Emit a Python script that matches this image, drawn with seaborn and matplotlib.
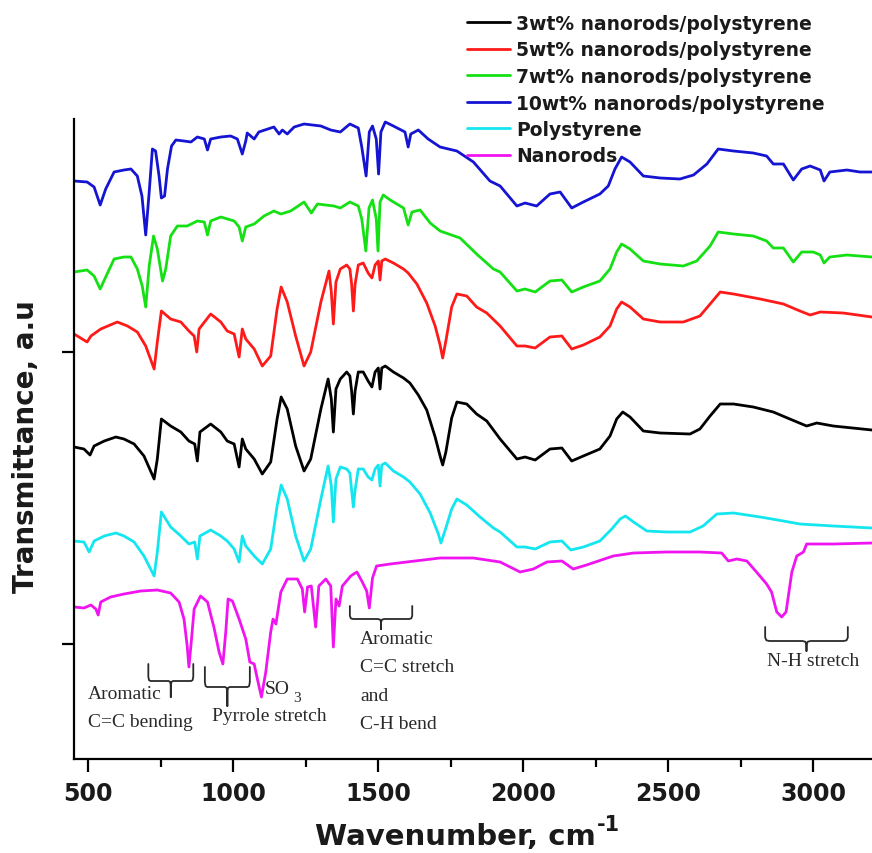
import numpy as np
import pandas as pd
import matplotlib
matplotlib.use("Agg")
import matplotlib.pyplot as plt
import seaborn as sns

# ---------------------------------------------------------------- data
samples = [
    "3wt% nanorods/polystyrene",
    "5wt% nanorods/polystyrene",
    "7wt% nanorods/polystyrene",
    "10wt% nanorods/polystyrene",
    "Polystyrene",
    "Nanorods",
]
colors = ["#000000", "#ff1a1a", "#14e014", "#1414d2", "#14e6f0", "#f014f0"]

# 3 wt% nanorods / polystyrene (black)
wn_3wt = [452, 486, 507, 521, 556, 596, 624, 659, 693, 728, 739, 753, 785, 820, 848, 868, 877, 886, 923, 958,
          980, 1004, 1021, 1032, 1044, 1073, 1101, 1130, 1152, 1166, 1187, 1216, 1245, 1268, 1303, 1328, 1339, 1346,
          1355, 1370, 1392, 1403, 1409, 1415, 1421, 1432, 1449, 1466, 1479, 1490, 1501, 1507, 1513, 1525, 1553, 1588,
          1610, 1639, 1668, 1697, 1714, 1723, 1734, 1754, 1772, 1806, 1840, 1875, 1921, 1979, 2007, 2042, 2093, 2134,
          2168, 2208, 2265, 2300, 2323, 2344, 2369, 2415, 2473, 2576, 2610, 2645, 2680, 2726, 2794, 2863, 2920, 2978,
          3013, 3070, 3203]
tr_3wt = [312, 310, 304, 313, 318, 322, 320, 315, 303, 280, 300, 340, 333, 327, 318, 315, 298, 327, 335, 327,
          318, 315, 292, 320, 310, 300, 285, 297, 340, 362, 350, 313, 288, 300, 350, 380, 360, 327,
          370, 380, 387, 383, 368, 345, 368, 387, 387, 378, 372, 387, 391, 370, 391, 393, 387, 381,
          376, 364, 349, 322, 303, 294, 307, 341, 357, 355, 345, 338, 320, 300, 302, 299, 310, 311,
          298, 303, 310, 323, 340, 347, 342, 328, 326, 325, 330, 343, 355, 355, 352, 347, 340, 333,
          336, 333, 329]

# 5 wt% nanorods / polystyrene (red)
wn_5wt = [452, 497, 510, 544, 601, 636, 670, 699, 728, 739, 753, 785, 820, 848, 866, 875, 883, 923, 958, 980,
          1004, 1021, 1032, 1044, 1073, 1101, 1130, 1152, 1166, 1187, 1216, 1245, 1268, 1303, 1331, 1339, 1346,
          1355, 1370, 1392, 1403, 1409, 1415, 1421, 1432, 1449, 1466, 1479, 1490, 1501, 1507, 1513, 1525, 1553,
          1588, 1604, 1634, 1668, 1697, 1714, 1723, 1734, 1754, 1772, 1806, 1840, 1875, 1921, 1979, 2007, 2042,
          2093, 2134, 2168, 2208, 2265, 2300, 2323, 2340, 2369, 2415, 2473, 2553, 2610, 2651, 2680, 2726, 2818,
          2898, 2955, 2990, 3025, 3104, 3203]
tr_5wt = [425, 417, 423, 430, 437, 433, 427, 413, 390, 417, 448, 440, 437, 428, 423, 407, 430, 445, 437, 428,
          425, 402, 430, 420, 410, 393, 403, 450, 472, 457, 423, 393, 407, 457, 488, 467, 435,
          477, 490, 494, 490, 475, 448, 475, 494, 496, 486, 481, 494, 498, 479, 498, 500, 496,
          490, 486, 475, 456, 433, 414, 401, 418, 452, 465, 463, 452, 446, 433, 413, 413, 411,
          422, 423, 410, 414, 422, 433, 450, 457, 452, 440, 437, 437, 443, 457, 467, 465, 460,
          455, 448, 444, 447, 446, 442]

# 7 wt% nanorods / polystyrene (green)
wn_7wt = [452, 497, 521, 542, 561, 590, 624, 648, 670, 687, 699, 711, 726, 739, 757, 768, 785, 808, 842, 877,
          901, 912, 923, 958, 1004, 1021, 1032, 1044, 1073, 1107, 1141, 1165, 1199, 1245, 1270, 1291, 1348, 1370,
          1403, 1432, 1444, 1458, 1469, 1481, 1494, 1500, 1507, 1518, 1542, 1588, 1604, 1617, 1645, 1680, 1714,
          1783, 1840, 1898, 1921, 1979, 2007, 2042, 2093, 2134, 2168, 2208, 2265, 2300, 2323, 2340, 2369, 2415,
          2473, 2553, 2599, 2645, 2673, 2726, 2794, 2840, 2863, 2898, 2932, 2961, 3001, 3025, 3038, 3058, 3117, 3203]
tr_7wt = [487, 489, 483, 470, 482, 500, 502, 502, 490, 473, 452, 493, 523, 510, 478, 490, 523, 533, 533, 538,
          537, 524, 538, 542, 538, 532, 518, 532, 535, 543, 548, 545, 548, 557, 546, 555, 553, 551,
          557, 553, 540, 508, 551, 559, 540, 508, 557, 564, 559, 551, 534, 547, 549, 536, 528,
          521, 505, 490, 487, 468, 470, 467, 478, 479, 467, 472, 478, 490, 507, 515, 510, 498,
          495, 493, 498, 513, 527, 525, 523, 518, 511, 511, 497, 507, 507, 504, 496, 502, 504, 502]

# 10 wt% nanorods / polystyrene (blue)
wn_10wt = [452, 497, 521, 542, 561, 590, 624, 648, 670, 686, 699, 711, 722, 733, 745, 753, 764, 774, 788, 803,
           831, 855, 877, 901, 912, 923, 958, 992, 1015, 1032, 1044, 1049, 1073, 1089, 1141, 1159, 1170, 1187,
           1211, 1245, 1303, 1337, 1370, 1403, 1432, 1444, 1459, 1470, 1481, 1494, 1502, 1510, 1525, 1553, 1593,
           1604, 1613, 1639, 1673, 1714, 1772, 1829, 1886, 1921, 1979, 2007, 2047, 2093, 2128, 2168, 2208, 2265,
           2294, 2317, 2340, 2369, 2415, 2473, 2541, 2588, 2634, 2673, 2726, 2794, 2840, 2863, 2898, 2932, 2961,
           2990, 3025, 3038, 3058, 3117, 3162, 3203]
tr_10wt = [578, 577, 572, 554, 570, 587, 589, 590, 583, 563, 524, 567, 610, 608, 583, 561, 563, 590, 613, 619,
           618, 617, 622, 620, 609, 620, 622, 623, 620, 605, 618, 626, 620, 627, 632, 625, 629, 625,
           632, 635, 633, 629, 627, 635, 631, 612, 583, 627, 633, 620, 585, 627, 637, 633, 627,
           612, 625, 629, 620, 612, 608, 597, 578, 573, 553, 556, 553, 565, 567, 551, 557, 565,
           573, 590, 602, 597, 583, 581, 580, 584, 595, 610, 608, 606, 603, 595, 595, 579, 590,
           593, 589, 578, 587, 589, 587, 587]

# polystyrene (cyan)
wn_ps = [452, 486, 504, 521, 556, 596, 624, 659, 693, 728, 739, 753, 785, 820, 848, 868, 877, 886, 923, 958,
         980, 1004, 1021, 1032, 1044, 1073, 1101, 1130, 1152, 1166, 1187, 1216, 1245, 1268, 1303, 1328, 1339, 1346,
         1355, 1370, 1392, 1403, 1409, 1415, 1421, 1432, 1449, 1466, 1479, 1490, 1501, 1507, 1513, 1525, 1553,
         1588, 1610, 1645, 1680, 1708, 1717, 1734, 1754, 1772, 1806, 1852, 1898, 1921, 1979, 2007, 2042, 2093,
         2134, 2165, 2208, 2265, 2306, 2335, 2353, 2381, 2427, 2495, 2576, 2621, 2668, 2726, 2818, 2898, 2955,
         3070, 3203]
tr_ps = [218, 217, 207, 218, 223, 226, 223, 217, 203, 183, 207, 247, 232, 223, 215, 217, 200, 223, 229, 223,
         218, 210, 197, 223, 213, 203, 195, 210, 253, 274, 260, 223, 198, 210, 260, 293, 273, 237,
         280, 292, 290, 286, 269, 252, 269, 290, 290, 282, 279, 290, 294, 273, 294, 296, 288,
         282, 277, 265, 246, 225, 216, 231, 250, 260, 254, 242, 231, 227, 212, 212, 210, 217,
         218, 209, 212, 218, 230, 240, 243, 237, 228, 227, 227, 233, 245, 246, 242, 238, 235,
         233, 231]

# nanorods (magenta)
wn_nr = [452, 486, 510, 527, 535, 544, 578, 624, 682, 739, 785, 814, 831, 842, 848, 856, 866, 888, 912, 934,
         952, 965, 975, 983, 998, 1021, 1044, 1058, 1073, 1084, 1098, 1113, 1130, 1138, 1148, 1165, 1187, 1222,
         1239, 1247, 1257, 1270, 1285, 1296, 1320, 1337, 1346, 1355, 1366, 1377, 1406, 1427, 1444, 1461, 1470,
         1481, 1495, 1542, 1656, 1714, 1829, 1921, 1990, 2036, 2082, 2134, 2173, 2219, 2311, 2381, 2495, 2610,
         2685, 2708, 2737, 2772, 2805, 2840, 2857, 2875, 2892, 2907, 2927, 2944, 2967, 2978, 3070, 3203]
tr_nr = [152, 151, 154, 150, 144, 157, 162, 165, 168, 169, 166, 157, 140, 113, 92, 117, 150, 163, 157, 132,
         107, 95, 127, 160, 158, 140, 120, 97, 95, 80, 62, 87, 127, 140, 135, 167, 180, 180,
         170, 147, 172, 173, 132, 173, 180, 173, 112, 160, 153, 173, 183, 187, 178, 168, 151,
         181, 193, 195, 199, 201, 201, 197, 187, 190, 197, 198, 190, 194, 203, 206, 207, 207,
         206, 198, 200, 198, 187, 175, 167, 147, 142, 147, 187, 203, 207, 215, 215, 216]

x_major = [500, 1000, 1500, 2000, 2500, 3000]
x_minor = [750, 1250, 1750, 2250, 2750]
y_ticks = [115, 407]

spectra = [(wn_3wt, tr_3wt), (wn_5wt, tr_5wt), (wn_7wt, tr_7wt),
           (wn_10wt, tr_10wt), (wn_ps, tr_ps), (wn_nr, tr_nr)]
df = pd.concat(
    [pd.DataFrame({"Wavenumber": w, "Transmittance": t, "Sample": s})
     for s, (w, t) in zip(samples, spectra)],
    ignore_index=True,
)

# ---------------------------------------------------------------- figure
sns.set_style("ticks")
plt.rcParams["font.family"] = ["DejaVu Sans"]

fig = plt.figure(figsize=(8.72, 8.54), dpi=100)
ax = fig.add_axes([74 / 872, 94 / 854, 798 / 872, 640 / 854])

sns.lineplot(data=df, x="Wavenumber", y="Transmittance", hue="Sample",
             hue_order=samples, palette=colors, estimator=None, sort=False,
             linewidth=2.0, ax=ax)

ax.set_xlim(451.7, 3203.4)
ax.set_ylim(0, 640)

# axes styling
for side in ("top", "right"):
    ax.spines[side].set_visible(False)
for side in ("left", "bottom"):
    ax.spines[side].set_linewidth(1.6)
    ax.spines[side].set_color("black")

ax.set_xticks(x_major)
ax.set_xticks(x_minor, minor=True)
ax.set_xticklabels([str(v) for v in x_major], fontsize=17, fontweight="bold", color="#1a1a1a")
ax.set_yticks(y_ticks)
ax.set_yticklabels([])
ax.tick_params(axis="both", which="major", direction="out", length=9, width=1.6, pad=7, color="black")
ax.tick_params(axis="x", which="minor", direction="out", length=5.5, width=1.6, color="black")

ax.set_xlabel("Wavenumber, cm", fontsize=21, fontweight="bold", color="#1a1a1a")
ax.xaxis.set_label_coords(0.4774, -0.098)
ax.set_ylabel("Transmittance, a.u", fontsize=20, fontweight="bold", color="#1a1a1a")
ax.yaxis.set_label_coords(-0.0426, 0.49)

# raised exponent placed right after the x-axis label
fig.canvas.draw()
bb = ax.xaxis.label.get_window_extent()
fig.text((bb.x1 + 2) / 872, (854 - 815) / 854, "-1", fontsize=15, fontweight="bold",
         color="#1a1a1a", ha="left", va="top")

# legend above the plot
handles, labels = ax.get_legend_handles_labels()
ax.get_legend().remove()
fig.legend(handles, labels, loc="upper left", bbox_to_anchor=(467 / 872, 1 - 15 / 854),
           frameon=False, prop={"weight": "bold", "size": 13.5}, labelcolor="#1a1a1a",
           handlelength=2.3, handletextpad=0.3, labelspacing=0.40,
           borderpad=0, borderaxespad=0)


# ---------------------------------------------------------------- band labels
def brace(x0, x1, y_top, y_bar, y_tip):
    """Curly bracket opening upward, with its point hanging down at the centre."""
    xc = 0.5 * (x0 + x1)
    rx = 0.05 * (x1 - x0)
    ry = 0.25 * (y_top - y_bar)
    xs = [x0, x0, x0 + 0.3 * rx, x0 + rx, xc - rx, xc - 0.3 * rx, xc, xc,
          xc, xc + 0.3 * rx, xc + rx, x1 - rx, x1 - 0.3 * rx, x1, x1]
    ys = [y_top, y_bar + ry, y_bar + 0.2 * ry, y_bar, y_bar, y_bar - 0.2 * ry, y_bar - ry, y_tip,
          y_bar - ry, y_bar - 0.2 * ry, y_bar, y_bar, y_bar + 0.2 * ry, y_bar + ry, y_top]
    ax.plot(xs, ys, color="#2a2a2a", lw=1.3, solid_capstyle="round", clip_on=False)


brace(708, 863, 95, 78, 62)
brace(903, 1058, 92, 72, 53)
brace(1403, 1618, 153, 140, 130)
brace(2835, 3120, 132, 118, 108)

serif = dict(family=["Liberation Serif", "DejaVu Serif"], fontsize=14, color="#2a2a2a", va="center", ha="left")
ax.text(500, 65, "Aromatic", **serif)
ax.text(500, 37, "C=C bending", **serif)
ax.text(928, 43, "Pyrrole stretch", **serif)
ax.text(1110, 70, "SO", **serif)
ax.text(1206, 61, "3", **{**serif, "fontsize": 11})
ax.text(1438, 120, "Aromatic", **serif)
ax.text(1438, 92, "C=C stretch", **serif)
ax.text(1438, 63, "and", **serif)
ax.text(1438, 35, "C-H bend", **serif)
ax.text(2841, 98, "N-H stretch", **serif)

fig.savefig("out.png", dpi=100)
